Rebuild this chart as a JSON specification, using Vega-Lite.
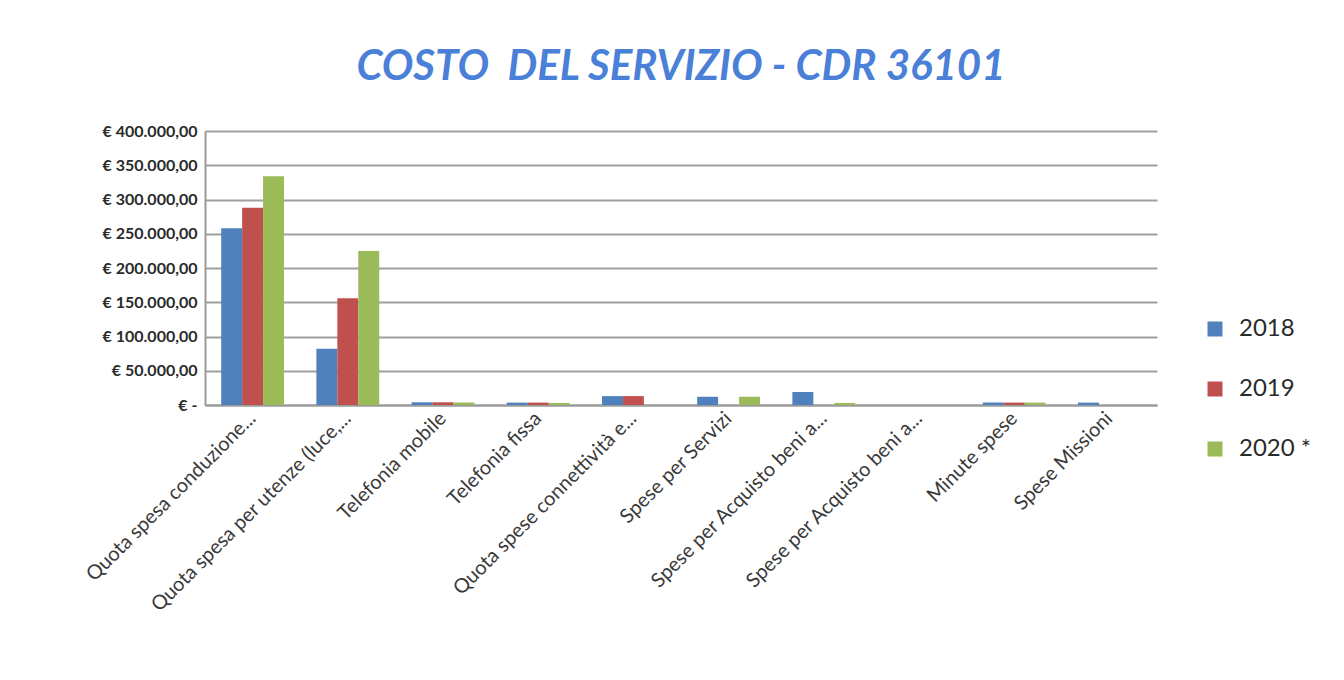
{
  "$schema": "https://vega.github.io/schema/vega-lite/v6.json",
  "autosize": {"type": "none"},
  "width": 952,
  "height": 274,
  "padding": {"left": 205, "top": 131, "right": 187, "bottom": 275},
  "background": "white",
  "title": {
    "text": "COSTO\u00a0 DEL SERVIZIO - CDR 36101",
    "font": "Lato",
    "fontSize": 42,
    "fontStyle": "italic",
    "fontWeight": "bold",
    "color": "#4a80d8",
    "anchor": "middle",
    "offset": 34
  },
  "data": {
    "values": [
      {"cat": "Quota spesa conduzione...", "year": "2018", "value": 258000},
      {"cat": "Quota spesa conduzione...", "year": "2019", "value": 288000},
      {"cat": "Quota spesa conduzione...", "year": "2020 *", "value": 334000},
      {"cat": "Quota spesa per utenze (luce,...", "year": "2018", "value": 82000},
      {"cat": "Quota spesa per utenze (luce,...", "year": "2019", "value": 156000},
      {"cat": "Quota spesa per utenze (luce,...", "year": "2020 *", "value": 225000},
      {"cat": "Telefonia mobile", "year": "2018", "value": 4000},
      {"cat": "Telefonia mobile", "year": "2019", "value": 4000},
      {"cat": "Telefonia mobile", "year": "2020 *", "value": 3500},
      {"cat": "Telefonia fissa", "year": "2018", "value": 3500},
      {"cat": "Telefonia fissa", "year": "2019", "value": 3500},
      {"cat": "Telefonia fissa", "year": "2020 *", "value": 3000},
      {"cat": "Quota spese connettività e...", "year": "2018", "value": 13000},
      {"cat": "Quota spese connettività e...", "year": "2019", "value": 13000},
      {"cat": "Quota spese connettività e...", "year": "2020 *", "value": 0},
      {"cat": "Spese per Servizi", "year": "2018", "value": 12000},
      {"cat": "Spese per Servizi", "year": "2019", "value": 0},
      {"cat": "Spese per Servizi", "year": "2020 *", "value": 12000},
      {"cat": "Spese per Acquisto beni a...", "year": "2018", "value": 19000},
      {"cat": "Spese per Acquisto beni a...", "year": "2019", "value": 0},
      {"cat": "Spese per Acquisto beni a...", "year": "2020 *", "value": 3000},
      {"cat": "Spese per Acquisto beni a... #2", "year": "2018", "value": 0},
      {"cat": "Spese per Acquisto beni a... #2", "year": "2019", "value": 0},
      {"cat": "Spese per Acquisto beni a... #2", "year": "2020 *", "value": 0},
      {"cat": "Minute spese", "year": "2018", "value": 3500},
      {"cat": "Minute spese", "year": "2019", "value": 3500},
      {"cat": "Minute spese", "year": "2020 *", "value": 3500},
      {"cat": "Spese Missioni", "year": "2018", "value": 3500},
      {"cat": "Spese Missioni", "year": "2019", "value": 0},
      {"cat": "Spese Missioni", "year": "2020 *", "value": 0}
    ]
  },
  "mark": {"type": "bar"},
  "encoding": {
    "x": {
      "field": "cat",
      "type": "nominal",
      "sort": null,
      "scale": {"paddingInner": 0.34, "paddingOuter": 0.17},
      "axis": {
        "title": null,
        "labelAngle": -45,
        "labelAlign": "right",
        "labelBaseline": "middle",
        "labelFont": "Lato",
        "labelFontSize": 20,
        "labelColor": "#3a3a3a",
        "labelPadding": 10,
        "labelLimit": 400,
        "labelExpr": "replace(datum.label, ' #2', '')",
        "ticks": false,
        "domainColor": "#9a9a9a",
        "domainWidth": 2
      }
    },
    "xOffset": {"field": "year", "type": "nominal", "scale": {"paddingInner": 0}},
    "y": {
      "field": "value",
      "type": "quantitative",
      "scale": {"domain": [0, 400000]},
      "axis": {
        "title": null,
        "values": [0, 50000, 100000, 150000, 200000, 250000, 300000, 350000, 400000],
        "labelExpr": "datum.value == 0 ? '€ -' : '€ ' + replace(replace(replace(format(datum.value, ',.2f'), ',', 'X'), '.', ','), 'X', '.')",
        "labelFont": "Lato",
        "labelFontSize": 16,
        "labelFontWeight": "bold",
        "labelColor": "#2a2a2a",
        "labelPadding": 8,
        "ticks": false,
        "domainColor": "#9a9a9a",
        "domainWidth": 2,
        "gridColor": "#a0a0a0",
        "gridWidth": 2
      }
    },
    "color": {
      "field": "year",
      "type": "nominal",
      "scale": {"domain": ["2018", "2019", "2020 *"], "range": ["#4f81bd", "#c0504d", "#9bbb59"]},
      "legend": {
        "title": null,
        "orient": "none",
        "legendX": 998,
        "legendY": 186,
        "symbolType": "square",
        "symbolSize": 225,
        "symbolStrokeWidth": 0,
        "labelFont": "Lato",
        "labelFontSize": 24,
        "labelColor": "#2a2a2a",
        "labelOffset": 12,
        "rowPadding": 36
      }
    }
  },
  "config": {"view": {"stroke": null}}
}
